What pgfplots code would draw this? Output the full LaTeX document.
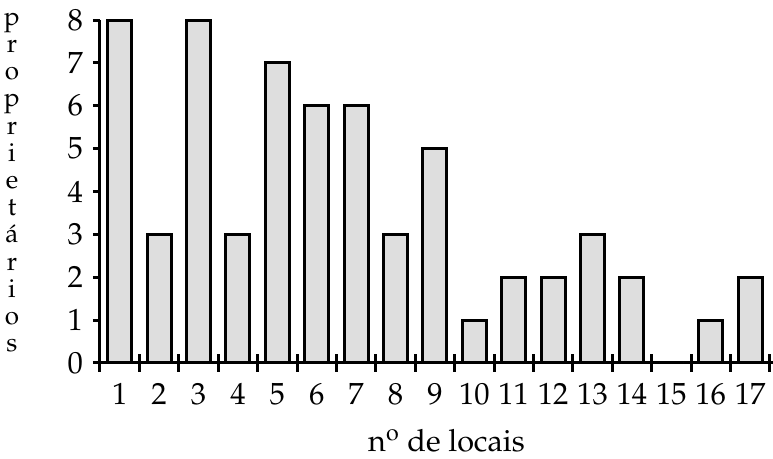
\documentclass[border=0pt]{standalone}
\usepackage[T1]{fontenc}
\usepackage{mathpazo}
\usepackage{pgfplots}
\pgfplotsset{compat=1.18}
\begin{document}
\begin{tikzpicture}
\begin{axis}[name=ax,
  scale only axis, width=336.5pt, height=171.5pt,
  xmin=0.5, xmax=17.58, ymin=0, ymax=8,
  clip=false,
  axis x line*=bottom, axis y line*=left,
  axis line style={line width=1.5pt, -},
  xtick={1,...,17},
  minor xtick={0.5,1.5,...,17.5},
  ytick={0,...,8},
  xtick align=center, ytick align=outside,
  major tick length=3.5pt, minor tick length=9pt,
  every tick/.style={black, line width=1.5pt},
  major x tick style={draw=none},
  tick label style={font=\fontsize{15.3}{17}\selectfont},
  xticklabel style={yshift=-5pt},
  yticklabel style={xshift=-1.5pt},
  xlabel={n\textsuperscript{o} de locais},
  xlabel style={font=\fontsize{15.3}{17}\selectfont, at={(axis description cs:0.5,0)}, anchor=base, yshift=-44.5pt, xshift=5pt},
]
\addplot[ybar, bar width=12pt, draw=black, line width=1.5pt, fill=black!13]
  coordinates {(1,8) (2,3) (3,8) (4,3) (5,7) (6,6) (7,6) (8,3) (9,5)
               (10,1) (11,2) (12,2) (13,3) (14,2) (15,0) (16,1) (17,2)};
\end{axis}
\node[align=center, font=\fontsize{13}{13.6}\selectfont, inner sep=0pt]
  at ([shift={(-44pt,4.5pt)}]ax.west) {p\\r\\o\\p\\r\\i\\e\\t\\\'a\\r\\i\\o\\s};
\pgfresetboundingbox
\path[use as bounding box] ([shift={(-50pt,-48pt)}]ax.south west) rectangle ([shift={(0pt,10pt)}]ax.north east);
\end{tikzpicture}
\end{document}
